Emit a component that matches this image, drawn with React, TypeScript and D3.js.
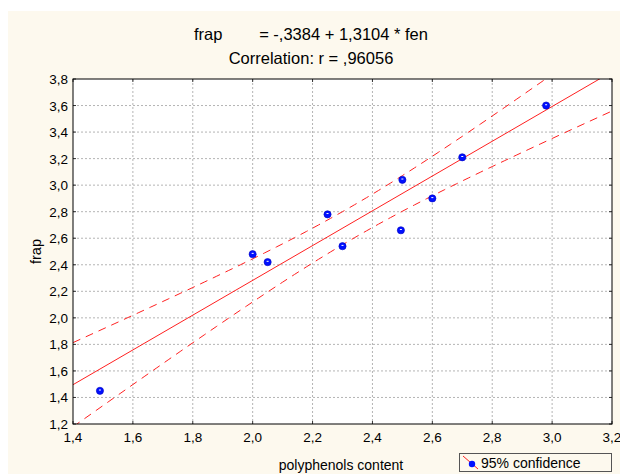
import React from "react";
import * as d3 from "d3";

const fen = [1.49, 2.0, 2.05, 2.25, 2.3, 2.495, 2.5, 2.6, 2.7, 2.98];
const frap = [1.45, 2.48, 2.42, 2.78, 2.54, 2.66, 3.04, 2.9, 3.21, 3.6];
const intercept = -0.3384;
const slope = 1.3104;
const xTicks = [1.4, 1.6, 1.8, 2.0, 2.2, 2.4, 2.6, 2.8, 3.0, 3.2];
const yTicks = [1.2, 1.4, 1.6, 1.8, 2.0, 2.2, 2.4, 2.6, 2.8, 3.0, 3.2, 3.4, 3.6, 3.8];
const titleLine1 = "frap        = -,3384 + 1,3104 * fen";
const titleLine2 = "Correlation: r = ,96056";
const xLabel = "polyphenols content";
const yLabel = "frap";
const legendLabel = "95% confidence";
const tCrit = 2.306;

const W = 620, H = 474;
const L = 73, R = 612, T = 79, B = 424;
const FONT = "'Liberation Sans', Arial, sans-serif";

const fmt = (v: number) => v.toFixed(1).replace(".", ",");

export default function App() {
  const x = d3.scaleLinear().domain([1.4, 3.2]).range([L, R]);
  const y = d3.scaleLinear().domain([1.2, 3.8]).range([B, T]);

  const n = fen.length;
  const xm = d3.mean(fen) as number;
  const sxx = d3.sum(fen, (v) => (v - xm) ** 2);
  const sse = d3.sum(fen.map((v, i) => (frap[i] - (intercept + slope * v)) ** 2));
  const s = Math.sqrt(sse / (n - 2));
  const grid = d3.range(1.4, 3.2001, 0.02);
  const band = (sign: number) =>
    grid.map((xv) => [
      xv,
      intercept + slope * xv + sign * tCrit * s * Math.sqrt(1 / n + (xv - xm) ** 2 / sxx),
    ] as [number, number]);
  const line = d3.line<[number, number]>().x((d) => x(d[0])).y((d) => y(d[1]));
  const fit: [number, number][] = [
    [1.4, intercept + slope * 1.4],
    [3.2, intercept + slope * 3.2],
  ];

  return (
    <svg width={W} height={H} style={{ position: "absolute", left: 0, top: 0 }} fontFamily={FONT}>
      <rect x={0} y={0} width={W} height={H} fill="#ffffff" />
      <rect x={8} y={11} width={W - 8} height={H - 11} fill="#fdf9ee" />
      <rect x={L} y={T} width={R - L} height={B - T} fill="#ffffff" />
      <defs>
        <clipPath id="plotclip">
          <rect x={L} y={T} width={R - L} height={B - T} />
        </clipPath>
      </defs>
      {xTicks.slice(1, -1).map((t) => (
        <line key={"gx" + t} x1={x(t)} x2={x(t)} y1={T} y2={B} stroke="#b4b4b4" strokeDasharray="2,2" />
      ))}
      {yTicks.slice(1, -1).map((t) => (
        <line key={"gy" + t} x1={L} x2={R} y1={y(t)} y2={y(t)} stroke="#b4b4b4" strokeDasharray="2,2" />
      ))}
      <g clipPath="url(#plotclip)">
        <path d={line(band(1)) || ""} fill="none" stroke="#ff2020" strokeWidth={1} strokeDasharray="8,6" />
        <path d={line(band(-1)) || ""} fill="none" stroke="#ff2020" strokeWidth={1} strokeDasharray="8,6" />
        <path d={line(fit) || ""} fill="none" stroke="#ff2020" strokeWidth={1} />
      </g>
      {fen.map((v, i) => (
        <g key={"p" + i}>
          <circle cx={x(v)} cy={y(frap[i])} r={3.6} fill="#0010ff" stroke="#0000c0" strokeWidth={0.6} />
          <line x1={x(v) - 1} x2={x(v) + 1} y1={y(frap[i]) - 0.8} y2={y(frap[i]) - 0.8} stroke="#ffffff" strokeWidth={1} />
        </g>
      ))}
      {xTicks.map((t) => (
        <g key={"tx" + t}>
          <line x1={x(t)} x2={x(t)} y1={B} y2={B - 3} stroke="#333" />
          <line x1={x(t)} x2={x(t)} y1={T} y2={T + 3} stroke="#333" />
          <text x={x(t)} y={B + 18} textAnchor="middle" fontSize={13.5} fill="#000">
            {fmt(t)}
          </text>
        </g>
      ))}
      {yTicks.map((t) => (
        <g key={"ty" + t}>
          <line x1={L} x2={L + 3} y1={y(t)} y2={y(t)} stroke="#333" />
          <line x1={R} x2={R - 3} y1={y(t)} y2={y(t)} stroke="#333" />
          <text x={L - 5} y={y(t) + 5} textAnchor="end" fontSize={13.5} fill="#000">
            {fmt(t)}
          </text>
        </g>
      ))}
      <rect x={L} y={T} width={R - L} height={B - T} fill="none" stroke="#000" strokeWidth={1} />
      <text x={311} y={40} textAnchor="middle" fontSize={16.5} fill="#000" style={{ whiteSpace: "pre" }}>
        {titleLine1}
      </text>
      <text x={311} y={64} textAnchor="middle" fontSize={16.5} fill="#000">
        {titleLine2}
      </text>
      <text x={341} y={470} textAnchor="middle" fontSize={14} fill="#000">
        {xLabel}
      </text>
      <text transform={`translate(41,${(T + B) / 2}) rotate(-90)`} textAnchor="middle" fontSize={14.5} fill="#000">
        {yLabel}
      </text>
      <rect x={459.5} y={453.5} width={152} height={18} fill="#fdf9ee" stroke="#555" strokeWidth={1} />
      <line x1={463} y1={456} x2={478} y2={469} stroke="#ff2020" strokeWidth={1} />
      <circle cx={472} cy={464} r={3.2} fill="#0010ff" />
      <text x={481} y={468} fontSize={14} fill="#000">
        {legendLabel}
      </text>
    </svg>
  );
}
